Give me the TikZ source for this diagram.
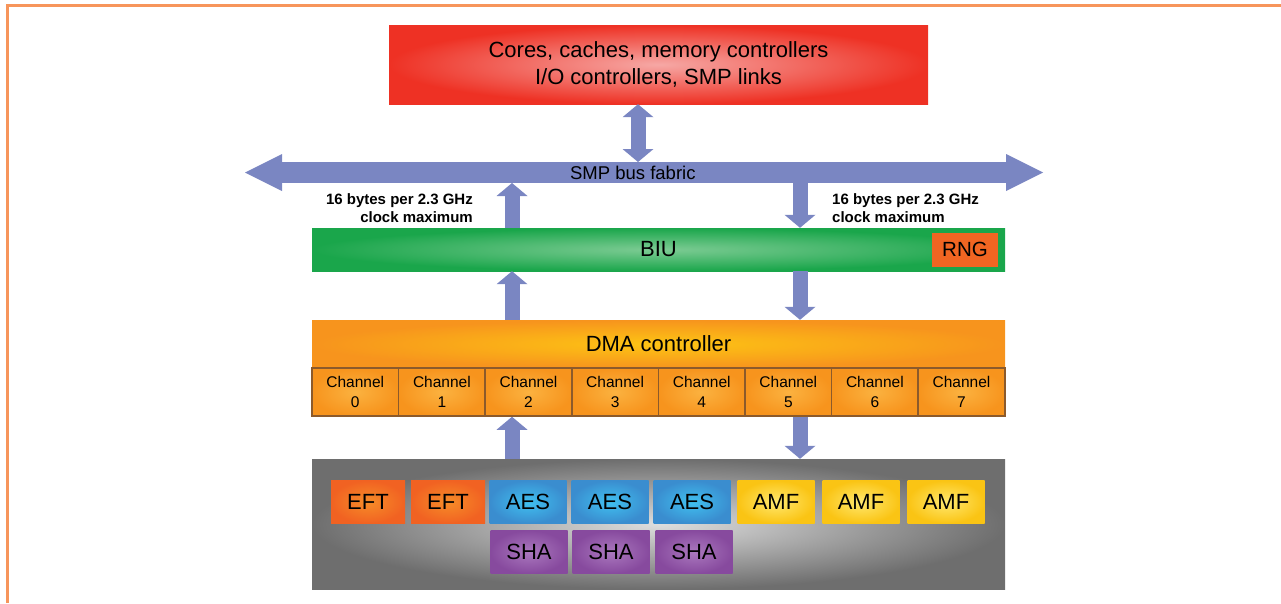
\documentclass[tikz,border=0pt]{standalone}
\usepackage{fontspec}
\setmainfont{Liberation Sans}
\usetikzlibrary{arrows.meta,positioning}

\definecolor{framecol}{RGB}{247,149,91}
\definecolor{busblue}{RGB}{122,134,194}
\definecolor{coresred}{RGB}{238,49,36}
\definecolor{corespink}{RGB}{246,168,165}
\definecolor{biugreen}{RGB}{26,166,75}
\definecolor{biulight}{RGB}{124,203,147}
\definecolor{dmaorange}{RGB}{247,148,29}
\definecolor{dmayellow}{RGB}{253,196,20}
\definecolor{chanlight}{RGB}{251,178,64}
\definecolor{chanline}{RGB}{140,90,43}
\definecolor{rngorange}{RGB}{241,101,34}
\definecolor{eftorange}{RGB}{241,98,34}
\definecolor{eftlight}{RGB}{246,140,40}
\definecolor{aesblue}{RGB}{58,141,207}
\definecolor{aeslight}{RGB}{64,192,240}
\definecolor{amfyellow}{RGB}{250,196,20}
\definecolor{amflight}{RGB}{255,232,110}
\definecolor{shapurple}{RGB}{135,74,158}
\definecolor{shalight}{RGB}{170,120,190}
\definecolor{grayedge}{RGB}{110,110,110}
\definecolor{graylight}{RGB}{222,222,222}

\newcommand{\setsize}[2]{\fontsize{#1}{#2}\selectfont}

\begin{document}
\begin{tikzpicture}[x=1pt,y=-1pt,
  box/.style={rectangle,inner sep=0pt,text=black},
  tile/.style={box,minimum width=77pt,minimum height=43pt,font=\setsize{22pt}{26pt}},
  efttile/.style={tile,minimum width=74pt,inner color=eftlight,outer color=eftorange},
  aestile/.style={tile,inner color=aeslight,outer color=aesblue},
  amftile/.style={tile,inner color=amflight,outer color=amfyellow},
  shatile/.style={tile,inner color=shalight,outer color=shapurple},
  chan/.style={box,draw=chanline,line width=1.5pt,inner color=chanlight,outer color=dmaorange,
    minimum width=86.6pt,minimum height=48pt,align=center,font=\setsize{15.5pt}{20pt}},
  rate/.style={inner sep=0pt,font=\bfseries\setsize{15pt}{18pt}},
  link/.style={draw=busblue,line width=15pt,-{Triangle[width=31pt,length=13pt,line width=0pt]}},
  link2/.style={draw=busblue,line width=15pt,{Triangle[width=31pt,length=13pt,line width=0pt]}-{Triangle[width=31pt,length=13pt,line width=0pt]}},
  bus/.style={draw=busblue,line width=21pt,{Triangle[width=37pt,length=37pt,line width=0pt]}-{Triangle[width=37pt,length=37pt,line width=0pt]}}]
\useasboundingbox (0,0) rectangle (1281,603);
\draw[framecol,line width=2.5pt] (7.5,603) -- (7.5,5.5) -- (1281,5.5);

% top block
\node[box,inner color=corespink,outer color=coresred,minimum width=539pt,minimum height=79pt,
  align=center,font=\setsize{22pt}{27pt}] (cores) at (658.5,64.5)
  {Cores, caches, memory controllers\\I/O controllers, SMP links};

% bus fabric
\coordinate (busL) at (245,172.5);
\coordinate (busR) at (1043,172.5);
\coordinate (busTop) at (638,162);
\coordinate (busUp) at (512,183);
\coordinate (busDown) at (800,183);
\draw[bus] (busL) -- (busR) node[pos=0.486,font=\setsize{18.5pt}{20pt},text=black] (busname) {SMP bus fabric};
\node[rate,anchor=north east,align=right] (rateL) at (473,193) {16 bytes per 2.3 GHz\\clock maximum};
\node[rate,anchor=north west,align=left] (rateR) at (832,193) {16 bytes per 2.3 GHz\\clock maximum};

% BIU and DMA
\node[box,inner color=biulight,outer color=biugreen,minimum width=693pt,minimum height=43pt,
  font=\setsize{22pt}{24pt}] (biu) at (658.5,249.5) {BIU};
\node[box,fill=rngorange,minimum width=66pt,minimum height=34pt,font=\setsize{20.5pt}{22pt},
  left=7pt of biu.east] (rng) {RNG};
\node[box,inner color=dmayellow,outer color=dmaorange,minimum width=693pt,minimum height=48pt,
  font=\setsize{22pt}{24pt}] (dma) at (658.5,344) {DMA controller};
\foreach \i in {0,...,7}
  \node[chan] (chan\i) at (355.3+\i*86.6,392) {Channel\\\i};

% engines
\node[box,inner color=graylight,outer color=grayedge,minimum width=693pt,minimum height=130pt] (engines) at (658.5,524) {};
\foreach \x/\y/\kind/\lbl [count=\n] in {368/502/efttile/EFT, 448/502/efttile/EFT,
    528/502/aestile/AES, 610/502/aestile/AES, 692/502/aestile/AES,
    776/502/amftile/AMF, 861/502/amftile/AMF, 946/502/amftile/AMF,
    529/552/shatile/SHA, 611/552/shatile/SHA, 694/552/shatile/SHA}
  \node[\kind] (tile\n) at (\x,\y) {\lbl};

% connections
\draw[link2] (cores.south -| busTop) -- (busTop);
\draw[link] (biu.north -| busUp) -- (busUp);
\draw[link] (busDown) -- (biu.north -| busDown);
\draw[link] (dma.north -| busUp) -- (biu.south -| busUp);
\draw[link] (biu.south -| busDown) -- (dma.north -| busDown);
\draw[link] (engines.north -| busUp) -- (chan2.south -| busUp);
\draw[link] (chan5.south -| busDown) -- (engines.north -| busDown);
\end{tikzpicture}
\end{document}
